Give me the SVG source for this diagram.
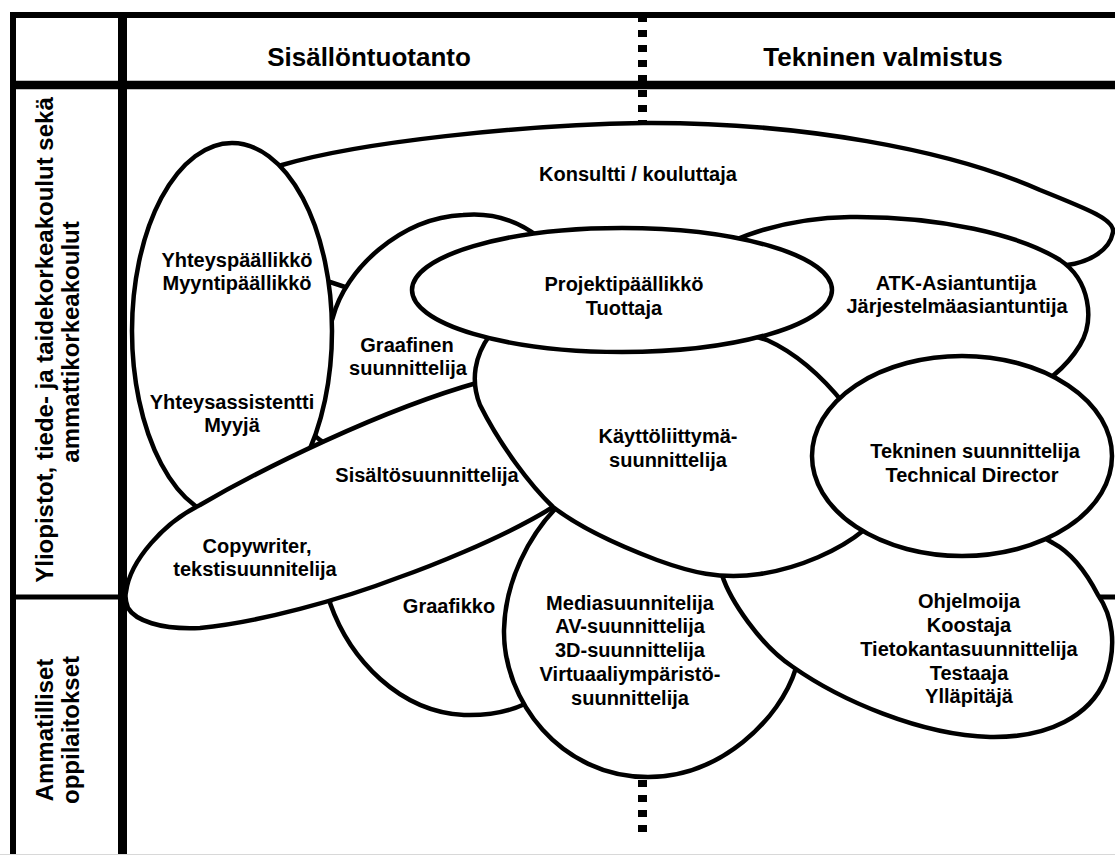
<svg xmlns="http://www.w3.org/2000/svg" width="1115" height="855" viewBox="0 0 1115 855">
<style>
.shape{fill:#fff;stroke:#000;stroke-width:4.5;stroke-linejoin:round}
text{font-family:"Liberation Sans",Arial,Helvetica,sans-serif;font-weight:bold;fill:#000}
.lbl{font-size:20px;text-anchor:middle}
.hdr{font-size:26px;text-anchor:middle}
.row{font-size:24px;text-anchor:middle}
</style>
<rect width="1115" height="855" fill="#fff"/>

<!-- grid lines that run underneath the role shapes -->
<g id="grid-under">
  <line x1="13" y1="597" x2="1115" y2="597" stroke="#000" stroke-width="5"/>
  <line x1="642.5" y1="15" x2="642.5" y2="838" stroke="#000" stroke-width="9" stroke-dasharray="7 8"/>
</g>

<!-- table frame -->
<g id="grid">
  <line x1="10" y1="15" x2="1115" y2="15" stroke="#000" stroke-width="6"/>
  <line x1="13" y1="12" x2="13" y2="855" stroke="#000" stroke-width="6"/>
  <line x1="10" y1="85" x2="1115" y2="85" stroke="#000" stroke-width="8.5"/>
  <line x1="122.5" y1="12" x2="122.5" y2="855" stroke="#000" stroke-width="9"/>
  <line x1="0" y1="854.5" x2="1115" y2="854.5" stroke="#d8d8d8" stroke-width="1"/>
</g>

<g id="headers">
  <text class="hdr" x="369" y="66">Sisällöntuotanto</text>
  <text class="hdr" x="883" y="66">Tekninen valmistus</text>
</g>

<g id="row-labels">
  <text class="row" transform="translate(53,340) rotate(-90)">Yliopistot, tiede- ja taidekorkeakoulut sekä</text>
  <text class="row" transform="translate(79,342) rotate(-90)">ammattikorkeakoulut</text>
  <text class="row" transform="translate(53,730) rotate(-90)">Ammatilliset</text>
  <text class="row" transform="translate(79,730) rotate(-90)">oppilaitokset</text>
</g>

<g id="konsultti">
  <path class="shape" d="M 230,225 C 235,190 260,172 282,165 C 360,142 520,125 643,123 C 800,122 950,150 1040,190 C 1090,210 1115,220 1113,232 C 1110,250 1090,262 1067,265 C 1000,275 800,290 640,295 C 500,298 400,292 348,288 L 330,282 C 280,270 228,255 230,225 Z"/>
  <text class="lbl" x="638" y="181">Konsultti / kouluttaja</text>
</g>

<g id="atk">
  <path class="shape" d="M 700,262 C 730,235 790,218 850,217 C 940,216 1020,235 1060,260 C 1090,280 1095,320 1080,345 C 1065,370 1040,390 1000,405 L 860,410 C 780,390 720,340 700,300 Z"/>
  <text class="lbl" x="956" y="290">ATK-Asiantuntija</text>
  <text class="lbl" x="957" y="313">Järjestelmäasiantuntija</text>
</g>

<g id="graafinen">
  <path class="shape" d="M 333,317 C 345,270 400,218 463,215 C 495,212 520,222 540,238 C 580,270 610,300 615,340 C 620,420 560,470 480,470 C 420,470 330,460 310,430 C 300,400 322,350 333,317 Z"/>
  <text class="lbl" x="407" y="352">Graafinen</text>
  <text class="lbl" x="408" y="375">suunnittelija</text>
</g>

<g id="yhteys">
  <ellipse class="shape" cx="232" cy="331" rx="100" ry="188"/>
  <text class="lbl" x="237" y="267">Yhteyspäällikkö</text>
  <text class="lbl" x="237" y="290">Myyntipäällikkö</text>
  <text class="lbl" x="232" y="409">Yhteysassistentti</text>
  <text class="lbl" x="232" y="432">Myyjä</text>
</g>

<g id="graafikko">
  <path class="shape" d="M 330,603 C 350,660 400,712 464,715 C 500,716 525,706 540,695 C 600,650 610,560 580,495 C 560,460 500,460 440,500 C 390,530 340,560 330,603 Z"/>
  <text class="lbl" x="449" y="613">Graafikko</text>
</g>

<g id="sisalto">
  <path class="shape" d="M 126,592 C 130,560 165,522 200,505 C 260,470 380,410 480,382 C 560,362 630,380 620,420 C 610,460 580,490 553,507 C 500,540 420,570 400,577 C 340,600 260,622 200,628 C 160,630 135,620 128,608 C 125,600 125,596 126,592 Z"/>
  <text class="lbl" x="427" y="482">Sisältösuunnittelija</text>
  <text class="lbl" x="257" y="553">Copywriter,</text>
  <text class="lbl" x="255" y="576">tekstisuunnitelija</text>
</g>

<g id="media">
  <path class="shape" d="M 556,508 C 530,535 505,580 504,630 C 503,700 560,777 648,777 C 720,777 780,720 796,668 C 810,620 790,560 740,530 C 680,490 600,480 556,508 Z"/>
  <text class="lbl" x="630" y="610">Mediasuunnitelija</text>
  <text class="lbl" x="630" y="633">AV-suunnittelija</text>
  <text class="lbl" x="630" y="657">3D-suunnittelija</text>
  <text class="lbl" x="630" y="681">Virtuaaliympäristö-</text>
  <text class="lbl" x="630" y="705">suunnittelija</text>
</g>

<g id="ohjelmoija">
  <path class="shape" d="M 722,575 C 730,600 760,645 793,667 C 840,700 920,735 990,737 C 1050,738 1090,715 1105,680 C 1118,645 1112,615 1098,595 C 1085,570 1070,552 1053,543 C 1000,510 900,500 800,520 C 760,530 730,550 722,575 Z"/>
  <text class="lbl" x="969" y="608">Ohjelmoija</text>
  <text class="lbl" x="969" y="632">Koostaja</text>
  <text class="lbl" x="969" y="656">Tietokantasuunnittelija</text>
  <text class="lbl" x="969" y="680">Testaaja</text>
  <text class="lbl" x="969" y="703">Ylläpitäjä</text>
</g>

<g id="kayttoliittyma">
  <path class="shape" d="M 490,335 C 540,318 680,312 767,340 C 800,355 825,380 845,405 C 870,440 880,500 864,530 C 840,550 800,568 760,574 C 720,580 690,572 657,560 C 620,546 580,528 553,507 C 530,485 500,445 480,405 C 470,380 475,355 490,335 Z"/>
  <text class="lbl" x="668" y="443">Käyttöliittymä-</text>
  <text class="lbl" x="668" y="467">suunnittelija</text>
</g>

<g id="projekti">
  <ellipse class="shape" cx="622" cy="290" rx="210" ry="62"/>
  <text class="lbl" x="624" y="291">Projektipäällikkö</text>
  <text class="lbl" x="624" y="315">Tuottaja</text>
</g>

<g id="tekninen">
  <ellipse class="shape" cx="962" cy="456" rx="150" ry="100"/>
  <text class="lbl" x="975" y="458">Tekninen suunnittelija</text>
  <text class="lbl" x="972" y="482">Technical Director</text>
</g>
</svg>
